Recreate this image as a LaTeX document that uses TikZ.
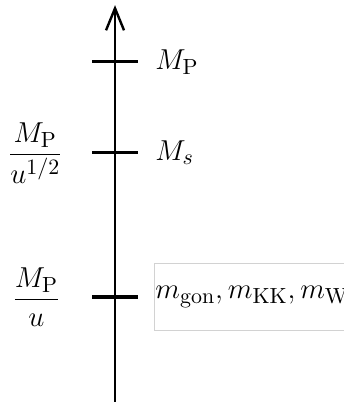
\documentclass[tikz,border=0pt]{standalone}
\usepackage{amsmath}
\DeclareMathSizes{14.4}{14.4}{10.8}{9}
\usetikzlibrary{arrows.meta, positioning, calc}

\tikzset{
  scaletick/.style={line width=1.6pt},
  scalelabel/.style={anchor=west, inner sep=0pt, font=\Large},
  leftlabel/.style={inner sep=0pt, font=\Large}
}

\begin{document}
\begin{tikzpicture}
  \useasboundingbox (0,0) rectangle (6.03,7.06);

  % Axis
  \coordinate (bot) at (2.02,0);
  \coordinate (top) at (2.02,6.97);
  \draw[line width=1.2pt, -{Straight Barb[length=11pt,width=9pt,line width=1.2pt]}] (bot) -- (top);

  % Tick levels
  \coordinate (planck) at (2.02,5.975);
  \coordinate (string) at (2.02,4.376);
  \coordinate (gon) at (2.02,1.845);
  \foreach \lvl in {planck, string, gon}
    \draw[scaletick] ($(\lvl)+(-0.404,0)$) -- ($(\lvl)+(0.404,0)$);

  % Right labels
  \node[scalelabel] (lplanck) at ($(planck)+(0.70,0)$) {$M_{\mathrm{P}}$};
  \node[scalelabel] (lstring) at ($(string)+(0.70,0)$) {$M_s$};
  \node[draw=gray!35, line width=0.4pt, anchor=west, inner xsep=0.5pt, font=\Large,
        minimum height=1.18cm, text width=4.2cm] (lgon) at ($(gon)+(0.686,0)$)
        {$m_{\mathrm{gon}}, m_{\mathrm{KK}}, m_{\mathrm{W}}$};

  % Left labels
  \node[leftlabel] (fstring) at (0.62,4.376) {$\dfrac{M_{\mathrm{P}}}{u^{1/2}}$};
  \node[leftlabel] (fgon) at (0.64,1.845) {$\dfrac{M_{\mathrm{P}}}{u}$};
\end{tikzpicture}
\end{document}
